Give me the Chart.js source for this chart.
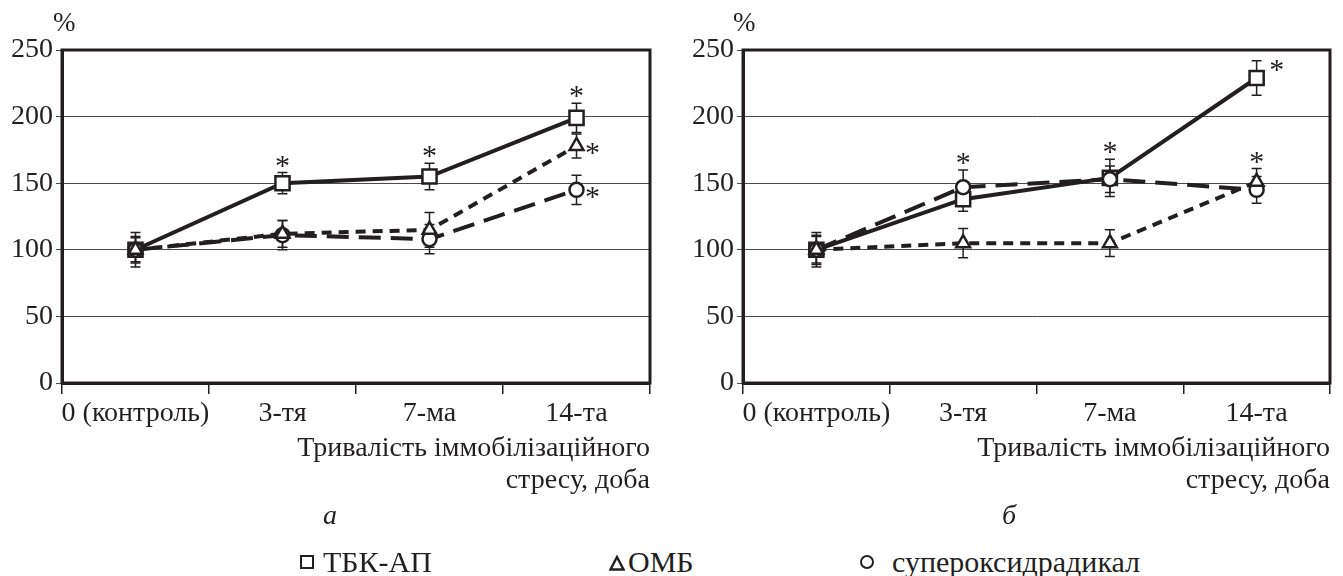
<!DOCTYPE html>
<html>
<head>
<meta charset="utf-8">
<script src="https://cdn.jsdelivr.net/npm/chart.js@4"></script>
<style>
  html, body { margin: 0; padding: 0; background: #fff; }
  #wrap { position: relative; width: 1343px; height: 576px; overflow: hidden;
          font-family: "Liberation Serif", serif; color: #231f20; }
  .box { position: absolute; top: 0; height: 500px; }
  .t { position: absolute; line-height: 1; white-space: nowrap; }
  .pct { font-size: 27px; }
  .sub { font-size: 28px; font-style: italic; }
  .leg { font-size: 30px; }
  .sq { position: absolute; width: 10px; height: 10px; border: 2.5px solid #231f20; }
  .ci { position: absolute; width: 10px; height: 10px; border: 2.5px solid #231f20; border-radius: 50%; }
  .tri { position: absolute; }
</style>
</head>
<body>
<div id="wrap">
  <div class="box" style="left:0;width:680px"><canvas id="chartA"></canvas></div>
  <div class="box" style="left:680px;width:663px"><canvas id="chartB"></canvas></div>

  <div class="t pct" style="left:53px;top:9px">%</div>
  <div class="t pct" style="left:733px;top:9px">%</div>

  <div class="t sub" style="left:323px;top:501px">а</div>
  <div class="t sub" style="left:1002px;top:501px">б</div>

  <div class="sq" style="left:300px;top:555px"></div>
  <div class="t leg" style="left:323px;top:547px">ТБК-АП</div>
  <svg class="tri" style="left:609px;top:555px" width="16" height="16">
    <polygon points="8,2 14.5,14.5 1.5,14.5" fill="none" stroke="#231f20" stroke-width="2.4"/>
  </svg>
  <div class="t leg" style="left:628px;top:547px">ОМБ</div>
  <div class="ci" style="left:860px;top:555px"></div>
  <div class="t leg" style="left:892px;top:547px">супероксидрадикал</div>
</div>

<script>
// Categories (days of immobilization stress)
const categories = ["0 (контроль)", "3-тя", "7-ма", "14-та"];
const yTicks = [0, 50, 100, 150, 200, 250];
const axisTitle = ["Тривалість іммобілізаційного", "стресу, доба"];

// Panel a
const tbkA = [100, 150, 155, 199];
const tbkErrA = [13, 8, 10, 11];
const tbkStarA = ["", "top", "top", "top"];
const ombA = [100, 112, 115, 178];
const ombErrA = [10, 10, 13, 9];
const ombStarA = ["", "", "", "right"];
const supA = [100, 111, 108, 145];
const supErrA = [9, 11, 11, 11];
const supStarA = ["", "", "", "right"];

// Panel б
const tbkB = [100, 138, 154, 229];
const tbkErrB = [13, 9, 14, 13];
const tbkStarB = ["", "", "top", "upright"];
const ombB = [100, 105, 105, 151];
const ombErrB = [11, 11, 10, 10];
const ombStarB = ["", "", "", "top"];
const supB = [100, 147, 153, 145];
const supErrB = [10, 13, 10, 10];
const supStarB = ["", "top", "", ""];

(function () {
  "use strict";

  const INK = "#231f20";
  const FAMILY = "'Liberation Serif', serif";

  // Box around the plot area (top and right sides come from here)
  const framePlugin = {
    id: "frame",
    beforeDatasetsDraw(chart) {
      const a = chart.chartArea, ctx = chart.ctx;
      ctx.save();
      ctx.strokeStyle = INK;
      ctx.lineWidth = 3;
      ctx.strokeRect(a.left, a.top, a.right - a.left, a.bottom - a.top);
      ctx.restore();
    }
  };

  // Error bars, drawn under the markers
  const errorBarPlugin = {
    id: "errorBars",
    beforeDatasetsDraw(chart) {
      const ctx = chart.ctx, y = chart.scales.y;
      ctx.save();
      ctx.strokeStyle = INK;
      ctx.lineWidth = 1.5;
      chart.data.datasets.forEach(function (ds, di) {
        const meta = chart.getDatasetMeta(di);
        ds.data.forEach(function (v, i) {
          const e = ds.errors[i];
          const px = meta.data[i].x;
          const top = y.getPixelForValue(v + e);
          const bot = y.getPixelForValue(v - e);
          ctx.beginPath();
          ctx.moveTo(px, top); ctx.lineTo(px, bot);
          ctx.moveTo(px - 5, top); ctx.lineTo(px + 5, top);
          ctx.moveTo(px - 5, bot); ctx.lineTo(px + 5, bot);
          ctx.stroke();
        });
      });
      ctx.restore();
    }
  };

  // Significance asterisks
  const starPlugin = {
    id: "stars",
    afterDatasetsDraw(chart) {
      const ctx = chart.ctx, y = chart.scales.y;
      const size = 30;
      ctx.save();
      ctx.fillStyle = INK;
      ctx.font = size + "px " + FAMILY;
      ctx.textAlign = "center";
      ctx.textBaseline = "alphabetic";
      chart.data.datasets.forEach(function (ds, di) {
        const meta = chart.getDatasetMeta(di);
        ds.stars.forEach(function (s, i) {
          if (!s) return;
          const pt = meta.data[i];
          let cx = pt.x, cy = pt.y;
          if (s === "top") {
            cy = y.getPixelForValue(ds.data[i] + ds.errors[i]) - 13;
          } else if (s === "right") {
            cx = pt.x + 16; cy = pt.y + 1;
          } else if (s === "upright") {
            cx = pt.x + 20; cy = pt.y - 14;
          }
          ctx.fillText("*", cx, cy + size * 0.5);
        });
      });
      ctx.restore();
    }
  };

  function makeDatasets(tbk, tbkErr, tbkStar, omb, ombErr, ombStar, sup, supErr, supStar) {
    const common = {
      borderColor: INK,
      borderWidth: 4,
      pointBackgroundColor: "#fff",
      pointBorderColor: INK,
      pointBorderWidth: 2.5,
      fill: false,
      tension: 0
    };
    return [
      Object.assign({}, common, {
        label: "ТБК-АП", data: tbk, errors: tbkErr, stars: tbkStar,
        pointStyle: "rect", pointRadius: 10, order: 2
      }),
      Object.assign({}, common, {
        label: "ОМБ", data: omb, errors: ombErr, stars: ombStar,
        borderDash: [10, 7], pointStyle: "triangle", pointRadius: 8, order: 0
      }),
      Object.assign({}, common, {
        label: "супероксидрадикал", data: sup, errors: supErr, stars: supStar,
        borderDash: [22, 10], pointStyle: "circle", pointRadius: 7, order: 1
      })
    ];
  }

  function makeOptions(yWidth, padRight) {
    const font = { family: FAMILY, size: 28 };
    return {
      responsive: true,
      maintainAspectRatio: false,
      animation: false,
      layout: { padding: { top: 50, right: padRight, left: 0, bottom: 0 } },
      plugins: { legend: { display: false }, tooltip: { enabled: false } },
      scales: {
        x: {
          type: "category",
          offset: true,
          grid: { offset: true, drawOnChartArea: false, tickLength: 11, color: INK, lineWidth: 1.5 },
          border: { display: true, color: INK, width: 3 },
          ticks: { font: font, color: INK, padding: 3, maxRotation: 0, autoSkip: false },
          title: { display: true, text: axisTitle, align: "end", color: INK,
                   font: { family: FAMILY, size: 28, lineHeight: 1.12 },
                   padding: { top: 0, bottom: 4 } },
          afterFit: function (s) { s.height = 117; }
        },
        y: {
          min: yTicks[0],
          max: yTicks[yTicks.length - 1],
          afterBuildTicks: function (s) { s.ticks = yTicks.map(function (v) { return { value: v }; }); },
          grid: { color: "#4a4a4a", lineWidth: 1, tickLength: 6 },
          border: { display: true, color: INK, width: 3 },
          ticks: { font: font, color: INK, padding: 3 },
          afterFit: function (s) { s.width = yWidth; }
        }
      }
    };
  }

  function renderPanel(el, datasets, yWidth, padRight) {
    if (!el) return;
    new Chart(el, {
      type: "line",
      data: { labels: categories, datasets: datasets },
      options: makeOptions(yWidth, padRight),
      plugins: [framePlugin, errorBarPlugin, starPlugin]
    });
  }

  renderPanel(document.getElementById("chartA"),
    makeDatasets(tbkA, tbkErrA, tbkStarA, ombA, ombErrA, ombStarA, supA, supErrA, supStarA), 62, 30);
  renderPanel(document.getElementById("chartB"),
    makeDatasets(tbkB, tbkErrB, tbkStarB, ombB, ombErrB, ombStarB, supB, supErrB, supStarB), 63, 13);
})();
</script>
</body>
</html>
